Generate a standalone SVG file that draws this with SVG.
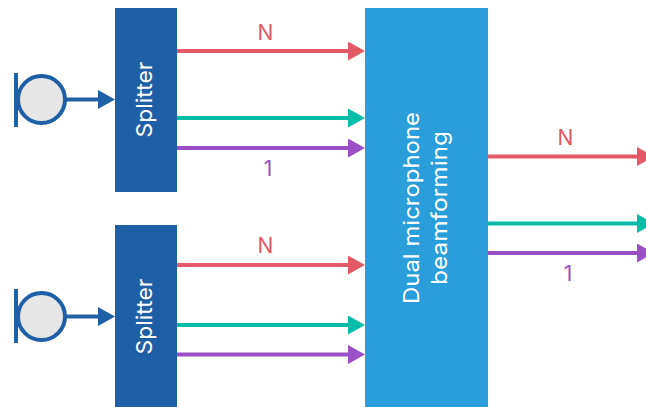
<svg xmlns="http://www.w3.org/2000/svg" width="646" height="407" viewBox="0 0 646 407">
<style>
.splitter{fill:#1f5fa6}
.box{fill:#2a9edb}
.t{font-family:"Inter","Open Sans",sans-serif;fill:#fff;text-anchor:middle;font-size:22px}
.l{font-family:"Inter","Open Sans",sans-serif;font-size:21px;text-anchor:middle}
.w{fill:none;stroke-width:4}
.r{stroke:#e25a68}.g{stroke:#07bda8}.p{stroke:#9a4fc4}.b{stroke:#1f5fa6}
.mic{fill:#e6e6e6;stroke:#1f5fa6;stroke-width:4}
</style>
<defs>
<marker id="ar" markerUnits="userSpaceOnUse" markerWidth="17" markerHeight="19" refX="2" refY="9.5" orient="auto"><path d="M0 0L17 9.5L0 19Z" fill="#e25a68"/></marker>
<marker id="ag" markerUnits="userSpaceOnUse" markerWidth="17" markerHeight="19" refX="2" refY="9.5" orient="auto"><path d="M0 0L17 9.5L0 19Z" fill="#07bda8"/></marker>
<marker id="ap" markerUnits="userSpaceOnUse" markerWidth="17" markerHeight="19" refX="2" refY="9.5" orient="auto"><path d="M0 0L17 9.5L0 19Z" fill="#9a4fc4"/></marker>
<marker id="ab" markerUnits="userSpaceOnUse" markerWidth="17" markerHeight="19" refX="2" refY="9.5" orient="auto"><path d="M0 0L17 9.5L0 19Z" fill="#1f5fa6"/></marker>
</defs>
<g id="connectors">
<path class="w b" d="M66 99.500H100" marker-end="url(#ab)"/>
<path class="w b" d="M66 316.500H100" marker-end="url(#ab)"/>
<path class="w r" d="M177 51H350" marker-end="url(#ar)"/>
<path class="w g" d="M177 118H350" marker-end="url(#ag)"/>
<path class="w p" d="M177 148H350" marker-end="url(#ap)"/>
<path class="w r" d="M177 265H350" marker-end="url(#ar)"/>
<path class="w g" d="M177 325H350" marker-end="url(#ag)"/>
<path class="w p" d="M177 354.500H350" marker-end="url(#ap)"/>
<path class="w r" d="M488 156.500H639" marker-end="url(#ar)"/>
<path class="w g" d="M488 223.500H639" marker-end="url(#ag)"/>
<path class="w p" d="M488 253H639" marker-end="url(#ap)"/>
<text class="l" x="265.500" y="39.500" fill="#e25a68">N</text>
<text class="l" x="268" y="175.500" fill="#9a4fc4">1</text>
<text class="l" x="265.500" y="252.500" fill="#e25a68">N</text>
<text class="l" x="565.500" y="144.500" fill="#e25a68">N</text>
<text class="l" x="568" y="280.500" fill="#9a4fc4">1</text>
</g>
<g id="mic1"><rect x="14" y="73" width="4" height="54" fill="#1f5fa6"/><circle class="mic" cx="41.500" cy="99.500" r="23.500"/></g>
<g id="mic2"><rect x="14" y="289" width="4" height="54" fill="#1f5fa6"/><circle class="mic" cx="41.500" cy="316.500" r="23.500"/></g>
<g id="splitter1"><rect class="splitter" x="115" y="8" width="62" height="184"/><text class="t" textLength="76" lengthAdjust="spacingAndGlyphs" transform="translate(152 99.500) rotate(-90)">Splitter</text></g>
<g id="splitter2"><rect class="splitter" x="115" y="225" width="62" height="182"/><text class="t" textLength="76" lengthAdjust="spacingAndGlyphs" transform="translate(152 316.500) rotate(-90)">Splitter</text></g>
<g id="beamformer"><rect class="box" x="365" y="8" width="123" height="399"/>
<text class="t" textLength="192" lengthAdjust="spacingAndGlyphs" transform="translate(419 208) rotate(-90)">Dual microphone</text>
<text class="t" textLength="154" lengthAdjust="spacingAndGlyphs" transform="translate(447 208) rotate(-90)">beamforming</text></g>
</svg>
